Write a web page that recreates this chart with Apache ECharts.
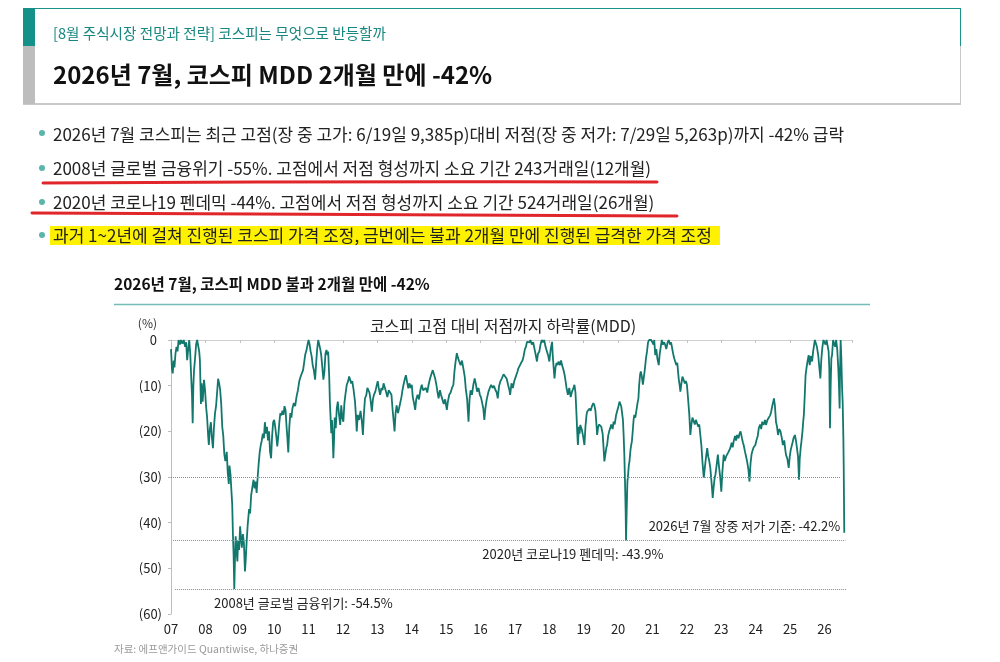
<!DOCTYPE html>
<html>
<head>
<meta charset="utf-8">
<script src="https://cdn.jsdelivr.net/npm/echarts@6.0.0/dist/echarts.min.js"></script>
<style>
  html,body{margin:0;padding:0;background:#fff;}
  body{width:1000px;height:662px;position:relative;overflow:hidden;font-family:"Noto Sans CJK KR","Noto Sans",sans-serif;color:#222;}
  .abs{position:absolute;}
  #chart{position:absolute;left:0;top:0;width:1000px;height:662px;z-index:0;}
  .txt{position:absolute;z-index:2;white-space:nowrap;}
  .bul{position:absolute;z-index:2;white-space:nowrap;font-size:17px;line-height:22px;left:53px;}
  .dot{position:absolute;z-index:2;width:6px;height:6px;border-radius:50%;background:#5bb5ab;left:39px;}
</style>
</head>
<body>
<!-- header box -->
<div class="abs" style="left:23px;top:8px;width:937px;height:94px;border-top:1px solid #1b928a;border-right:1px solid #c8c8c8;border-bottom:2px solid #c8c8c8;z-index:1;"></div>
<div class="abs" style="left:960px;top:8px;width:1px;height:38px;background:#1b928a;z-index:1;"></div>
<div class="abs" style="left:23px;top:8px;width:12px;height:38px;background:#16918a;z-index:1;"></div>
<div class="abs" style="left:23px;top:46px;width:12px;height:58px;background:#bdbdbd;z-index:1;"></div>
<div class="txt" style="left:53px;top:23px;font-size:14.6px;line-height:20px;color:#17877f;">[8월 주식시장 전망과 전략] 코스피는 무엇으로 반등할까</div>
<div class="txt" style="left:53px;top:58px;font-size:24px;line-height:32px;font-weight:700;color:#111;">2026년 7월, 코스피 MDD 2개월 만에 -42%</div>

<!-- highlight -->
<div class="abs" style="left:50px;top:226px;width:670px;height:19px;background:#fff200;z-index:1;"></div>

<!-- bullets -->
<div class="dot" style="top:130px;"></div>
<div class="bul" style="top:123px;">2026년 7월 코스피는 최근 고점(장 중 고가: 6/19일 9,385p)대비 저점(장 중 저가: 7/29일 5,263p)까지 -42% 급락</div>
<div class="dot" style="top:165px;"></div>
<div class="bul" style="top:157px;">2008년 글로벌 금융위기 -55%. 고점에서 저점 형성까지 소요 기간 243거래일(12개월)</div>
<div class="dot" style="top:199px;"></div>
<div class="bul" style="top:191px;">2020년 코로나19 펜데믹 -44%. 고점에서 저점 형성까지 소요 기간 524거래일(26개월)</div>
<div class="dot" style="top:232px;"></div>
<div class="bul" style="top:224px;">과거 1~2년에 걸쳐 진행된 코스피 가격 조정, 금번에는 불과 2개월 만에 진행된 급격한 가격 조정</div>

<svg class="abs" style="left:0;top:0;z-index:3;" width="1000" height="662">
  <path d="M43 183 Q350 181 657 182" stroke="#e0262a" stroke-width="3" fill="none" stroke-linecap="round"/>
  <path d="M32 213 Q350 214 677 216" stroke="#e0262a" stroke-width="3" fill="none" stroke-linecap="round"/>
</svg>

<div id="chart"></div>

<script>
// ---- data ----
var years = [
2007.00,2007.03,2007.05,2007.08,2007.10,2007.13,2007.16,2007.19,2007.22,2007.26,2007.29,2007.33,2007.37,2007.41,2007.44,2007.47,2007.50,2007.53,2007.56,2007.59,2007.61,2007.63,2007.65,2007.67,2007.70,2007.73,2007.76,2007.79,2007.82,2007.84,2007.87,2007.89,2007.92,2007.96,2007.99,
2008.02,2008.05,2008.08,2008.10,2008.13,2008.16,2008.19,2008.22,2008.25,2008.28,2008.31,2008.34,2008.37,2008.40,2008.43,2008.46,2008.49,2008.52,2008.55,2008.58,2008.62,2008.65,2008.68,2008.70,2008.73,2008.76,2008.78,2008.80,2008.82,2008.84,2008.86,2008.88,2008.91,2008.93,2008.95,2008.98,
2009.01,2009.04,2009.06,2009.09,2009.12,2009.15,2009.17,2009.20,2009.23,2009.27,2009.30,2009.33,2009.37,2009.40,2009.43,2009.46,2009.49,2009.52,2009.55,2009.58,2009.61,2009.64,2009.67,2009.70,2009.73,2009.76,2009.79,2009.82,2009.85,2009.88,2009.91,2009.94,2009.97,
2010.00,2010.03,2010.06,2010.09,2010.12,2010.15,2010.18,2010.21,2010.24,2010.27,2010.30,2010.33,2010.36,2010.38,2010.41,2010.44,2010.47,2010.50,2010.53,2010.57,2010.61,2010.65,2010.69,2010.73,2010.77,2010.80,2010.84,2010.87,2010.90,2010.94,2010.97,
2011.00,2011.03,2011.06,2011.09,2011.12,2011.15,2011.19,2011.22,2011.25,2011.28,2011.31,2011.34,2011.37,2011.40,2011.43,2011.46,2011.49,2011.52,2011.55,2011.57,2011.60,2011.62,2011.64,2011.66,2011.68,2011.70,2011.72,2011.74,2011.76,2011.79,2011.82,2011.85,2011.88,2011.92,2011.95,2011.98,
2012.01,2012.04,2012.07,2012.11,2012.15,2012.18,2012.21,2012.24,2012.27,2012.31,2012.35,2012.38,2012.40,2012.43,2012.47,2012.51,2012.55,2012.58,2012.61,2012.64,2012.68,2012.71,2012.74,2012.77,2012.80,2012.84,2012.87,2012.90,2012.94,2012.98,
2013.01,2013.04,2013.08,2013.12,2013.15,2013.18,2013.22,2013.25,2013.29,2013.33,2013.37,2013.41,2013.44,2013.47,2013.50,2013.53,2013.56,2013.60,2013.63,2013.66,2013.70,2013.73,2013.76,2013.80,2013.83,2013.86,2013.90,2013.93,2013.97,
2014.00,2014.03,2014.07,2014.10,2014.13,2014.17,2014.21,2014.25,2014.29,2014.33,2014.37,2014.41,2014.45,2014.49,2014.53,2014.57,2014.61,2014.64,2014.68,2014.72,2014.75,2014.78,2014.82,2014.85,2014.89,2014.93,2014.97,
2015.02,2015.05,2015.09,2015.13,2015.17,2015.21,2015.24,2015.27,2015.31,2015.34,2015.38,2015.42,2015.46,2015.50,2015.54,2015.57,2015.61,2015.65,2015.68,2015.71,2015.75,2015.79,2015.83,2015.86,2015.90,2015.94,2015.98,
2016.01,2016.04,2016.08,2016.11,2016.14,2016.18,2016.23,2016.27,2016.31,2016.35,2016.39,2016.43,2016.47,2016.50,2016.54,2016.58,2016.62,2016.67,2016.72,2016.76,2016.80,2016.84,2016.86,2016.90,2016.94,2016.98,
2017.03,2017.07,2017.10,2017.14,2017.18,2017.22,2017.25,2017.29,2017.32,2017.35,2017.38,2017.42,2017.45,2017.49,2017.53,2017.57,2017.61,2017.64,2017.67,2017.71,2017.74,2017.78,2017.82,2017.85,2017.89,2017.93,2017.97,
2018.00,2018.04,2018.08,2018.10,2018.13,2018.15,2018.18,2018.21,2018.24,2018.27,2018.31,2018.34,2018.37,2018.41,2018.44,2018.46,2018.50,2018.54,2018.58,2018.62,2018.66,2018.70,2018.73,2018.76,2018.79,2018.81,2018.83,2018.86,2018.88,2018.90,2018.94,2018.98,
2019.02,2019.05,2019.08,2019.10,2019.14,2019.17,2019.20,2019.24,2019.28,2019.31,2019.34,2019.37,2019.39,2019.42,2019.45,2019.48,2019.51,2019.55,2019.58,2019.60,2019.63,2019.66,2019.68,2019.71,2019.74,2019.77,2019.80,2019.84,2019.87,2019.90,2019.94,2019.97,
2020.01,2020.04,2020.06,2020.09,2020.11,2020.14,2020.16,2020.18,2020.20,2020.22,2020.23,2020.25,2020.27,2020.29,2020.31,2020.33,2020.36,2020.38,2020.40,2020.43,2020.45,2020.47,2020.50,2020.53,2020.56,2020.59,2020.61,2020.64,2020.66,2020.69,2020.72,2020.75,2020.78,2020.81,2020.84,2020.87,2020.90,2020.93,2020.96,
2021.00,2021.03,2021.05,2021.08,2021.11,2021.14,2021.18,2021.21,2021.24,2021.27,2021.30,2021.34,2021.37,2021.40,2021.44,2021.47,2021.51,2021.54,2021.57,2021.60,2021.63,2021.66,2021.69,2021.72,2021.76,2021.79,2021.81,2021.84,2021.87,2021.90,2021.94,2021.97,
2022.00,2022.03,2022.07,2022.10,2022.13,2022.16,2022.20,2022.23,2022.26,2022.30,2022.33,2022.36,2022.39,2022.42,2022.45,2022.49,2022.52,2022.55,2022.59,2022.62,2022.65,2022.68,2022.72,2022.75,2022.78,2022.81,2022.83,2022.87,2022.90,2022.93,2022.97,
2023.00,2023.03,2023.07,2023.10,2023.14,2023.17,2023.21,2023.26,2023.30,2023.33,2023.36,2023.40,2023.43,2023.46,2023.50,2023.53,2023.56,2023.60,2023.63,2023.65,2023.69,2023.72,2023.75,2023.79,2023.82,2023.85,2023.88,2023.90,2023.94,2023.99,
2024.02,2024.06,2024.09,2024.13,2024.16,2024.19,2024.23,2024.27,2024.30,2024.34,2024.38,2024.42,2024.45,2024.48,2024.51,2024.53,2024.56,2024.59,2024.62,2024.65,2024.68,2024.72,2024.76,2024.79,2024.83,2024.86,2024.88,2024.92,2024.96,2024.99,
2025.02,2025.04,2025.07,2025.10,2025.14,2025.17,2025.20,2025.23,2025.26,2025.28,2025.31,2025.33,2025.36,2025.38,2025.40,2025.43,2025.45,2025.48,2025.51,2025.54,2025.57,2025.60,2025.64,2025.67,2025.70,2025.72,2025.75,2025.78,2025.82,2025.85,2025.88,2025.91,2025.94,2025.97,
2026.00,2026.03,2026.06,2026.09,2026.12,2026.14,2026.16,2026.18,2026.20,2026.22,2026.25,2026.28,2026.31,2026.34,2026.37,2026.40,2026.42,2026.44,2026.45,2026.47,2026.49,2026.51,2026.53,2026.55,2026.56,2026.575
];
var mdd = [
-2.0,-6.5,-7.3,-4.5,-6.0,-3.0,-1.5,-2.5,0,-1.0,0,-0.8,0,-1.5,-0.5,-4.4,-2.0,0,-3.0,-8.7,-12.0,-18.2,-10.0,-6.6,-4.0,-1.0,0,0,-2.5,-4.4,-14.0,-9.5,-13.5,-8.7,-11.0,
-14.6,-17.0,-21.0,-23.0,-19.5,-18.0,-21.5,-23.7,-19.0,-16.0,-14.5,-11.5,-8.5,-9.5,-11.0,-14.0,-19.0,-21.0,-25.0,-26.5,-24.5,-29.0,-31.5,-27.5,-29.5,-33.5,-36.0,-42.5,-47.0,-54.5,-48.0,-43.0,-46.5,-48.5,-44.0,-46.0,
-40.8,-44.0,-45.5,-42.5,-44.5,-50.7,-48.5,-44.0,-40.5,-37.0,-38.0,-34.0,-32.0,-30.6,-32.5,-31.0,-33.5,-30.0,-27.0,-24.5,-23.0,-22.0,-20.5,-21.5,-18.0,-20.5,-19.0,-22.0,-20.0,-24.5,-25.9,-21.0,-18.0,
-17.5,-19.0,-21.0,-23.3,-21.0,-18.0,-16.0,-16.5,-15.5,-16.4,-14.5,-15.3,-19.0,-21.0,-24.6,-19.0,-16.0,-17.0,-15.0,-13.8,-14.5,-12.4,-11.0,-9.0,-8.0,-7.7,-6.6,-5.0,-3.3,-2.2,-1.0,
0,-1.0,-2.5,-3.6,-5.5,-6.5,-8.7,-5.0,-2.0,0,0,-2.0,-3.5,-6.0,-8.7,-7.0,-3.0,-2.2,-3.3,-2.5,-8.0,-13.8,-17.0,-20.4,-17.5,-21.0,-25.9,-22.0,-17.0,-19.3,-15.0,-13.5,-16.0,-18.6,-14.3,-17.0,
-17.9,-14.0,-12.0,-9.8,-9.0,-8.0,-8.4,-9.5,-9.0,-11.0,-13.5,-17.0,-20.0,-16.4,-17.5,-15.5,-17.9,-20.8,-16.0,-12.8,-12.0,-10.5,-10.2,-11.5,-13.0,-15.7,-13.0,-12.0,-11.3,-10.0,
-9.0,-10.5,-12.0,-10.5,-11.0,-9.5,-10.5,-11.3,-12.5,-11.0,-10.6,-12.0,-15.0,-17.5,-20.0,-16.0,-14.3,-16.0,-15.0,-15.0,-12.5,-11.0,-9.8,-8.5,-7.7,-9.0,-10.6,-9.5,-10.5,
-9.8,-12.5,-14.0,-15.3,-13.0,-12.0,-13.0,-11.0,-9.8,-11.0,-11.3,-10.5,-11.5,-9.8,-8.5,-7.5,-6.6,-7.0,-8.4,-10.0,-11.5,-12.8,-11.0,-12.0,-13.0,-14.0,-13.0,
-15.3,-13.5,-12.0,-11.5,-10.5,-9.8,-7.0,-5.0,-2.9,-3.8,-4.7,-5.5,-4.5,-6.2,-8.0,-10.6,-13.0,-17.9,-13.0,-11.0,-12.0,-9.8,-8.4,-9.5,-11.3,-10.5,-12.0,
-12.5,-13.5,-15.0,-17.5,-15.0,-13.0,-11.3,-10.5,-9.8,-10.5,-10.0,-10.9,-11.5,-12.8,-10.0,-9.0,-8.4,-7.5,-7.3,-8.5,-9.8,-11.0,-12.0,-9.5,-10.5,-9.0,
-8.7,-7.0,-6.2,-6.5,-5.0,-4.5,-3.6,-2.0,-1.5,-0.4,0,-0.5,0,-1.0,-0.5,-2.0,-3.5,-4.7,-3.0,-2.5,-1.1,0,-0.5,0,-1.5,-2.5,-3.5,
-4.7,-2.0,-0.4,-3.5,-6.5,-8.4,-6.0,-5.0,-5.5,-4.7,-5.5,-4.5,-5.5,-6.5,-7.5,-8.4,-10.5,-12.0,-10.5,-12.5,-11.3,-10.5,-9.8,-11.5,-16.4,-20.0,-23.0,-19.0,-20.5,-18.6,-19.5,-21.0,
-23.0,-19.0,-16.5,-15.7,-16.0,-15.0,-15.5,-14.5,-13.8,-14.3,-15.5,-18.5,-20.8,-19.0,-18.5,-18.2,-19.0,-20.5,-24.0,-26.6,-25.0,-23.5,-23.0,-21.0,-20.0,-19.3,-18.5,-19.5,-17.9,-18.5,-16.5,-16.4,
-14.5,-13.5,-13.1,-14.5,-15.7,-17.5,-20.8,-25.0,-31.0,-38.0,-43.9,-37.0,-31.0,-29.5,-27.5,-26.6,-24.0,-23.0,-22.2,-19.5,-17.5,-16.4,-17.0,-15.5,-14.0,-12.8,-10.0,-7.5,-6.9,-8.0,-9.8,-8.0,-6.2,-4.0,-2.5,-0.5,0,0,0,
0,-1.0,0,-3.3,-2.0,-4.0,-5.5,-3.0,-1.5,0,-1.0,-0.5,-1.1,-2.0,-0.5,0,-1.0,-0.5,-1.8,-3.0,-4.0,-4.7,-5.5,-5.0,-8.4,-10.0,-11.3,-9.5,-8.0,-8.4,-9.5,-9.0,
-9.8,-12.5,-16.4,-20.8,-18.5,-17.0,-17.1,-18.5,-17.5,-17.9,-19.0,-18.5,-20.8,-23.0,-26.5,-30.2,-28.0,-26.0,-23.7,-25.5,-26.5,-28.0,-31.5,-34.6,-32.0,-30.0,-29.5,-27.0,-25.1,-27.5,-30.2,
-33.2,-29.0,-25.1,-26.5,-25.5,-25.9,-24.5,-23.7,-22.5,-23.5,-22.2,-21.0,-22.0,-20.8,-21.5,-20.5,-20.0,-21.5,-22.5,-23.0,-24.5,-25.5,-26.6,-28.5,-31.0,-27.0,-25.0,-24.4,-23.5,-23.0,
-22.0,-21.0,-19.3,-18.5,-19.5,-17.9,-18.6,-17.5,-18.6,-17.5,-17.1,-16.5,-15.7,-14.5,-13.5,-12.8,-14.5,-17.9,-19.0,-20.8,-19.5,-20.0,-21.5,-23.0,-22.0,-24.0,-25.1,-26.0,-28.0,-25.5,
-24.0,-23.7,-22.5,-21.5,-20.8,-22.0,-23.7,-25.5,-30.6,-26.0,-23.5,-22.2,-20.0,-18.0,-16.4,-11.5,-7.7,-6.0,-4.5,-3.3,-5.5,-3.5,-4.7,-2.5,-1.0,0,0,-1.5,-3.5,-6.0,-8.4,-4.0,-1.5,0,
0,-1.0,0,0,-2.5,-6.2,-19.3,-10.0,-4.0,-3.3,0,0,-1.5,0,-2.0,-6.0,-9.8,-15.0,-8.0,0,-4.0,-10.0,-14.0,-22.0,-28.4,-42.2
];
var yTicks = [0, -10, -20, -30, -40, -50, -60];
var refLevels = [-30, -43.9, -54.5];
var refStart = [2007.00, 2007.06, 2007.12];
var refEnd = [2026.46, 2026.61, 2026.63];
var noteText = ['2008년 글로벌 금융위기: -54.5%', '2020년 코로나19 펜데믹: -43.9%', '2026년 7월 장중 저가 기준: -42.2%'];
var notePos = [[2008.25, -57.6], [2016.05, -46.8], [2026.46, -40.7]];
var noteAlign = ['left', 'left', 'right'];

var chart = echarts.init(document.getElementById('chart'), null, {renderer: 'canvas'});
var FONT = '"Noto Sans CJK KR","Noto Sans",sans-serif';
var seriesData = years.map(function (y, i) { return [y, mdd[i]]; });

function yearLabel(v) {
  if (Math.abs(v - Math.round(v)) > 1e-6) return '';
  var s = String(Math.round(v) % 100);
  return s.length < 2 ? '0' + s : s;
}

var option = {
  animation: false,
  backgroundColor: 'transparent',
  textStyle: {fontFamily: FONT},
  grid: {left: 171, top: 340, width: 681, height: 274, containLabel: false},
  xAxis: [{
    type: 'value', min: 2007, max: 2026.8, interval: 1, position: 'top',
    axisLine: {show: true, onZero: false, lineStyle: {color: '#cfcfcf', width: 1}},
    axisTick: {show: true, inside: true, length: 3, lineStyle: {color: '#c4c4c4'}},
    axisLabel: {show: false}, splitLine: {show: false}
  }, {
    type: 'value', min: 2007, max: 2026.8, interval: 1, position: 'bottom',
    axisLine: {show: false, onZero: false}, axisTick: {show: false}, splitLine: {show: false},
    axisLabel: {show: true, formatter: yearLabel, color: '#222', fontSize: 13, margin: 9, fontFamily: FONT}
  }],
  yAxis: {
    type: 'value', min: -60, max: 0, interval: 10,
    axisLine: {show: true, lineStyle: {color: '#bdbdbd'}},
    axisTick: {show: true, length: 3, lineStyle: {color: '#bdbdbd'}},
    splitLine: {show: false},
    axisLabel: {
      color: '#222', fontSize: 13, margin: 9, fontFamily: FONT,
      formatter: function (v) { return v === 0 ? '{z|0}' : '(' + (-v) + ')'; },
      rich: {z: {fontSize: 13, color: '#222', padding: [0, 5, 0, 0], fontFamily: FONT}}
    }
  },
  graphic: [
    {type: 'text', left: 114, top: 276, style: {text: '2026년 7월, 코스피 MDD 불과 2개월 만에 -42%', fontSize: 15.5, fontWeight: 'bold', fill: '#111', fontFamily: FONT}},
    {type: 'line', shape: {x1: 114, y1: 304.5, x2: 870, y2: 304.5}, style: {stroke: '#74bdb6', lineWidth: 1.5}},
    {type: 'text', x: 503, y: 326, style: {text: '코스피 고점 대비 저점까지 하락률(MDD)', fontSize: 16, fill: '#222', align: 'center', verticalAlign: 'middle', fontFamily: FONT}},
    {type: 'text', x: 157, y: 323, style: {text: '(%)', fontSize: 12, fill: '#333', align: 'right', verticalAlign: 'middle', fontFamily: FONT}},
    {type: 'text', left: 114, top: 644, style: {text: '자료: 에프앤가이드 Quantiwise, 하나증권', fontSize: 10.5, fill: '#9a9a9a', fontFamily: FONT}}
  ],
  series: [{
    type: 'line', xAxisIndex: 0, data: seriesData, showSymbol: false, symbol: 'none',
    lineStyle: {color: '#12786d', width: 1.8}, z: 3,
    markLine: {
      silent: true, symbol: ['none', 'none'], animation: false,
      lineStyle: {color: '#8c8c8c', type: 'dotted', width: 1},
      label: {show: false},
      data: refLevels.map(function (lv, i) { return [{coord: [refStart[i], lv]}, {coord: [refEnd[i], lv]}]; })
    },
    markPoint: {
      silent: true, symbol: 'circle', symbolSize: 0, animation: false,
      data: noteText.map(function (t, i) {
        return {coord: notePos[i], value: t,
          label: {show: true, position: [0, 0], formatter: t, align: noteAlign[i], verticalAlign: 'middle',
            color: '#222', fontSize: 13, fontFamily: FONT}};
      })
    }
  }]
};
chart.setOption(option);
</script>
</body>
</html>
